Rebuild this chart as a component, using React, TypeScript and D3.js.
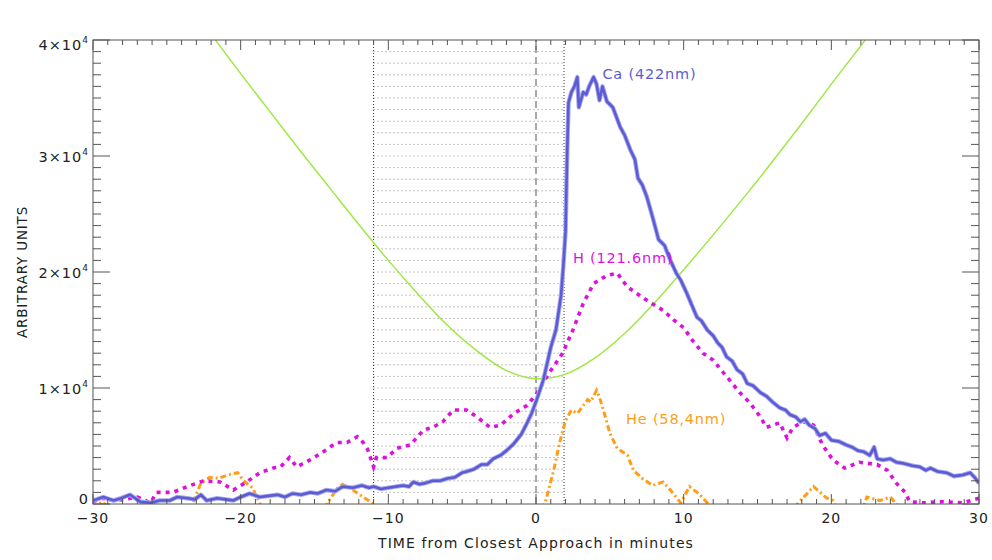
import React from "react";
import * as d3 from "d3";

// readings taken off the plot: [minutes, arbitrary units]
const caSeries: [number, number][] = [
  [-30, 300], [-29.3, 600], [-28.6, 300], [-28.1, 500], [-27.5, 800], [-26.8, 200], [-26.1, 100],
  [-25.5, 300], [-24.8, 300], [-24.3, 600], [-23.6, 500], [-23.1, 400], [-22.7, 800], [-22.3, 300],
  [-21.6, 500], [-21, 400], [-20.5, 300], [-20, 600], [-19.4, 900], [-18.7, 600], [-18.1, 700],
  [-17.5, 800], [-17, 600], [-16.5, 900], [-15.9, 800], [-15.3, 1000], [-14.8, 900], [-14.2, 1200],
  [-13.6, 1100], [-13.1, 1500], [-12.4, 1400], [-11.8, 1600], [-11.3, 1400], [-11, 1500], [-10.5, 1300],
  [-10, 1400], [-9.5, 1500], [-9, 1600], [-8.6, 1500], [-8.3, 1900], [-7.9, 1700], [-7.5, 1800],
  [-7, 2000], [-6.5, 2000], [-6, 2200], [-5.5, 2300], [-5, 2700], [-4.7, 2800], [-4.2, 3000],
  [-3.7, 3400], [-3.3, 3400], [-2.9, 3900], [-2.4, 4200], [-2, 4600], [-1.5, 5200], [-1, 6000],
  [-0.6, 7000], [-0.3, 7800], [0.05, 9000], [0.5, 10700], [1, 13500], [1.35, 15000], [1.7, 18000],
  [1.85, 20500], [2, 23500], [2.1, 29700], [2.2, 34600], [2.4, 35500], [2.6, 36000], [2.8, 36800],
  [2.9, 34200], [3.2, 35500], [3.4, 35300], [3.6, 36000], [3.9, 36800], [4.1, 36200], [4.3, 34800],
  [4.5, 36000], [4.8, 34700], [5.2, 34200], [5.7, 32500], [6, 31800], [6.4, 30500], [6.7, 29700],
  [6.9, 28100], [7.2, 27500], [7.5, 26500], [7.9, 24700], [8.3, 22800], [8.7, 22300], [9.1, 21000],
  [9.5, 19900], [9.8, 19300], [10.2, 18200], [10.6, 17000], [10.9, 16100], [11.2, 15800], [11.6, 15000],
  [12, 14500], [12.3, 13900], [12.6, 13500], [12.9, 12700], [13.3, 12300], [13.6, 11600], [14, 11200],
  [14.3, 10400], [14.7, 10200], [15.2, 9600], [15.6, 9300], [16.1, 8700], [16.5, 8300], [16.9, 8100],
  [17.2, 7700], [17.6, 7500], [17.9, 7100], [18.2, 7300], [18.5, 6800], [18.9, 6500], [19.2, 5900],
  [19.6, 6100], [20, 5500], [20.5, 5400], [21, 5100], [21.4, 4900], [21.8, 4600], [22.2, 4500],
  [22.6, 4200], [22.9, 4900], [23.1, 3900], [23.5, 3800], [24, 3900], [24.4, 3600], [24.9, 3500],
  [25.5, 3300], [26, 3200], [26.4, 2900], [26.7, 3100], [27.2, 2800], [27.8, 2700], [28.3, 2400],
  [28.9, 2500], [29.4, 2700], [29.7, 2300], [30, 1800],
];

const hSeries: [number, number][] = [
  [-30, 200], [-29.3, 500], [-28.6, 300], [-27.8, 400], [-27, 600], [-26.1, 100], [-25.7, 1000],
  [-24.6, 1000], [-23.4, 1600], [-22.5, 2000], [-21.4, 1900], [-20.5, 1200], [-19.6, 1900],
  [-18.7, 2700], [-17.8, 3100], [-17.3, 3200], [-16.7, 4000], [-16.2, 3200], [-15.3, 3800],
  [-14.4, 4500], [-13.5, 5300], [-12.8, 5300], [-12.1, 5800], [-11.7, 5300], [-11.4, 4700],
  [-11, 3200], [-10.8, 4000], [-10.1, 4000], [-9.4, 4800], [-8.5, 5100], [-7.6, 6400], [-7, 6600],
  [-6.3, 7100], [-5.6, 8100], [-4.7, 8100], [-4, 7500], [-3.1, 6600], [-2.4, 6800], [-1.5, 7800],
  [-0.6, 8500], [0.1, 9600], [0.5, 10500], [1, 11500], [1.8, 13000], [2.5, 15000], [3.2, 17300],
  [3.9, 19000], [4.8, 19700], [5.5, 19900], [6.2, 18700], [7, 18000], [7.7, 17400], [8.6, 16700],
  [9.3, 15900], [10, 15200], [10.6, 14100], [11.3, 13000], [12, 12400], [12.7, 11300], [13.1, 10700],
  [13.8, 9600], [14.5, 8700], [15.2, 7500], [15.6, 6600], [16.5, 7000], [17, 5700], [17.4, 6600],
  [18.1, 7100], [18.8, 6800], [19.4, 5100], [20.1, 3800], [20.9, 3100], [21.9, 3600], [23.1, 3400],
  [23.8, 2900], [24.4, 1800], [25, 1000], [25.3, 200], [26.2, 100], [27.6, 200], [28.9, 100], [30, 500],
];

const heSeries: [number, number][] = [
  [-30, -500], [-29.4, 200], [-28.8, -500], [-23.4, -500], [-23.2, 200], [-22.7, 1800], [-22.1, 2300],
  [-21.5, 2200], [-20.9, 2500], [-20.2, 2700], [-19.8, 2000], [-19.2, 1400], [-18.8, 300],
  [-18.5, -500], [-14.4, -500], [-14.1, 100], [-13.5, 1300], [-13.1, 1700], [-12.4, 1200],
  [-11.7, 600], [-11, 0], [-10.7, -500], [0.3, -500], [0.6, 0], [1.2, 2900], [1.6, 5300], [2, 7200],
  [2.4, 8100], [2.8, 7800], [3.5, 9000], [3.7, 8800], [4.1, 9800], [4.3, 9200], [4.7, 7500], [5, 6100],
  [5.5, 4800], [6.2, 4200], [6.6, 2900], [7.2, 2200], [7.9, 1600], [8.6, 1900], [9.1, 1200],
  [9.8, 100], [10.4, 1500], [11.1, 800], [11.6, 100], [11.9, -500], [17.5, -500], [17.7, 0],
  [18.8, 1500], [19.7, 500], [20.1, 300], [20.4, -500], [22.1, -500], [22.4, 600], [23.3, 300],
  [24, 600], [24.4, 0], [24.7, -500], [30, -500],
];

const distSeries: [number, number][] = [
  [-24, 43900], [-22, 40500], [-20, 37100], [-18, 33800], [-16, 30500], [-14, 27300], [-12, 24100],
  [-10, 21000], [-8, 18100], [-6, 15400], [-4, 13200], [-2, 11500], [0, 10800], [2, 11200],
  [4, 12600], [6, 14700], [8, 17300], [10, 20200], [12, 23200], [14, 26300], [16, 29500],
  [18, 32800], [20, 36200], [22, 39500], [24, 42900],
];

const xDomain = [-30, 30];
const yDomain = [0, 40000];
const xTickValues = [-30, -20, -10, 0, 10, 20, 30];
const yTickValues = [0, 10000, 20000, 30000, 40000];
const windowMinutes = [-11, 1.9];

const seriesLabels = [
  { text: "Ca (422nm)", at: [4.5, 36600], color: "#5b5bd3" },
  { text: "H (121.6nm)", at: [2.5, 20800], color: "#dd11dd" },
  { text: "He (58,4nm)", at: [6.1, 6900], color: "#ff9d1a" },
];

const width = 992;
const height = 560;
const margin = { top: 40, right: 13, bottom: 56, left: 93 };
const font = "'DejaVu Sans', 'Liberation Sans', sans-serif";

export default function App() {
  const x = d3.scaleLinear().domain(xDomain).range([margin.left, width - margin.right]);
  const y = d3.scaleLinear().domain(yDomain).range([height - margin.bottom, margin.top]);
  const [x0, x1] = x.range();
  const [yb, yt] = y.range();

  const line = d3.line<[number, number]>().x((d) => x(d[0])).y((d) => y(d[1]));
  const smooth = d3
    .line<[number, number]>()
    .x((d) => x(d[0]))
    .y((d) => y(d[1]))
    .curve(d3.curveCatmullRom);

  const xMinor = d3.range(xDomain[0], xDomain[1] + 1, 1);
  const yMinor = d3.range(yDomain[0], yDomain[1] + 1, 1000);
  const gridRows = d3.range(1000, yDomain[1], 1000);
  const axisColor = "#555";

  const yLabel = (v: number) => {
    if (v === 0) return <tspan>0</tspan>;
    const exp = Math.floor(Math.log10(v));
    const mant = v / Math.pow(10, exp);
    return (
      <>
        <tspan>{`${mant}×10`}</tspan>
        <tspan dy={-7} fontSize={9}>{exp}</tspan>
      </>
    );
  };
  // IDL nudges the end labels inside the frame
  const yLabelShift = (v: number) => (v === yDomain[0] ? 0 : v === yDomain[1] ? 10 : 6);

  return (
    <svg
      width={width}
      height={height}
      style={{ position: "absolute", left: 0, top: 0, background: "#fff" }}
      fontFamily={font}
    >
      <defs>
        <clipPath id="plotArea">
          <rect x={x0} y={yt} width={x1 - x0} height={yb - yt} />
        </clipPath>
      </defs>

      {/* closest-approach window */}
      <g>
        {gridRows.map((v) => (
          <line
            key={v}
            x1={x(windowMinutes[0])}
            x2={x(windowMinutes[1])}
            y1={y(v)}
            y2={y(v)}
            stroke="#888"
            strokeWidth={1}
            strokeDasharray="1 3"
          />
        ))}
        {windowMinutes.map((m) => (
          <line key={m} x1={x(m)} x2={x(m)} y1={yb} y2={yt} stroke="#333" strokeDasharray="1 2" />
        ))}
        <line x1={x(0)} x2={x(0)} y1={yb} y2={yt} stroke="#555" strokeDasharray="7 4" />
      </g>

      <g clipPath="url(#plotArea)" fill="none">
        <path d={smooth(distSeries) ?? ""} stroke="#9be83c" strokeWidth={1.4} />
        <path d={line(heSeries) ?? ""} stroke="#ff9d1a" strokeWidth={3} strokeDasharray="6 3 2 3" />
        <path d={line(hSeries) ?? ""} stroke="#dd11dd" strokeWidth={3.6} strokeDasharray="4 5" />
        <path d={line(caSeries) ?? ""} stroke="#aaaaee" strokeWidth={4.5} strokeLinejoin="round" />
        <path d={line(caSeries) ?? ""} stroke="#5b5bd3" strokeWidth={2.6} strokeLinejoin="round" />
      </g>

      {/* frame and ticks */}
      <rect x={x0} y={yt} width={x1 - x0} height={yb - yt} fill="none" stroke={axisColor} />
      {xMinor.map((m) => {
        const len = xTickValues.includes(m) ? 10 : 5;
        return (
          <g key={m} stroke={axisColor}>
            <line x1={x(m)} x2={x(m)} y1={yb} y2={yb - len} />
            <line x1={x(m)} x2={x(m)} y1={yt} y2={yt + len} />
          </g>
        );
      })}
      {yMinor.map((v) => {
        const len = yTickValues.includes(v) ? 17 : 8;
        return (
          <g key={v} stroke={axisColor}>
            <line x1={x0} x2={x0 + len} y1={y(v)} y2={y(v)} />
            <line x1={x1} x2={x1 - len} y1={y(v)} y2={y(v)} />
          </g>
        );
      })}

      {xTickValues.map((m) => (
        <text key={m} x={x(m)} y={yb + 19} textAnchor="middle" fontSize={14} letterSpacing={1} fill="#222">
          {m < 0 ? `\u2212${-m}` : m}
        </text>
      ))}
      {yTickValues.map((v) => (
        <text
          key={v}
          x={x0 - 4}
          y={y(v) + yLabelShift(v)}
          textAnchor="end"
          fontSize={14.5}
          letterSpacing={1}
          fill="#222"
        >
          {yLabel(v)}
        </text>
      ))}

      <text x={(x0 + x1) / 2} y={548} textAnchor="middle" fontSize={14} letterSpacing={1.1} fill="#222">
        TIME from Closest Approach in minutes
      </text>
      <text
        transform={`translate(27, ${(yb + yt) / 2}) rotate(-90)`}
        textAnchor="middle"
        fontSize={13.5}
        letterSpacing={0.8}
        fill="#222"
      >
        ARBITRARY UNITS
      </text>

      {seriesLabels.map((s) => (
        <text key={s.text} x={x(s.at[0])} y={y(s.at[1])} fontSize={14.5} letterSpacing={0.8} fill={s.color}>
          {s.text}
        </text>
      ))}
    </svg>
  );
}
